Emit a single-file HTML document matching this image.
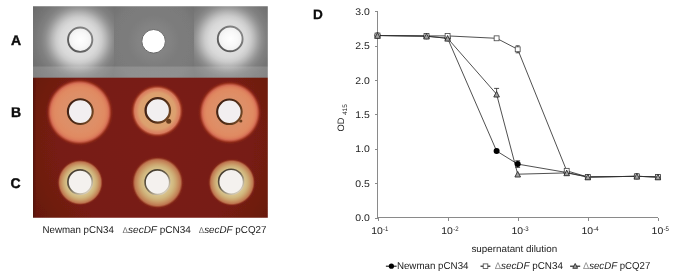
<!DOCTYPE html>
<html><head><meta charset="utf-8"><title>Figure</title>
<style>
html,body{margin:0;padding:0;background:#fff;}
body{width:685px;height:276px;overflow:hidden;font-family:"Liberation Sans",sans-serif;}
svg{display:block;}
svg text{font-family:"Liberation Sans",sans-serif;fill:#1a1a1a;}
.pl{font-weight:bold;font-size:14px;fill:#0c0c0c;stroke:#0c0c0c;stroke-width:0.4px;}
.lb{font-size:10px;}
.tk{font-size:9.7px;fill:#222;}
.sup{font-size:6.6px;}
.d{fill:#707070;font-size:8.2px;}
.d2{fill:#8c8c8c;font-size:9.6px;}
</style></head><body>
<svg width="685" height="276" viewBox="0 0 685 276" text-rendering="geometricPrecision">
<defs>
<filter id="bl" x="-5%" y="-5%" width="110%" height="110%"><feGaussianBlur stdDeviation="0.55"/></filter>
<radialGradient id="bgA1" gradientUnits="userSpaceOnUse" cx="79.0" cy="40.0" r="56"><stop offset="0.000" stop-color="#dedede"/><stop offset="0.250" stop-color="#dedede"/><stop offset="0.339" stop-color="#d8d8d8"/><stop offset="0.411" stop-color="#cbcbcb"/><stop offset="0.482" stop-color="#b5b5b5"/><stop offset="0.545" stop-color="#9f9f9f"/><stop offset="0.607" stop-color="#8d8d8d"/><stop offset="0.679" stop-color="#808080"/><stop offset="0.804" stop-color="#757575"/><stop offset="1.000" stop-color="#6b6b6b"/></radialGradient>
<radialGradient id="bgA2" gradientUnits="userSpaceOnUse" cx="153.6" cy="41.3" r="52">
<stop offset="0" stop-color="#868686"/><stop offset="0.3" stop-color="#838383"/><stop offset="0.5" stop-color="#7c7c7c"/><stop offset="0.8" stop-color="#7a7a7a"/><stop offset="1" stop-color="#727272"/></radialGradient>
<radialGradient id="bgA3" gradientUnits="userSpaceOnUse" cx="227.8" cy="39.0" r="56"><stop offset="0.000" stop-color="#dedede"/><stop offset="0.250" stop-color="#dedede"/><stop offset="0.339" stop-color="#d8d8d8"/><stop offset="0.411" stop-color="#cbcbcb"/><stop offset="0.482" stop-color="#b5b5b5"/><stop offset="0.545" stop-color="#9f9f9f"/><stop offset="0.607" stop-color="#8d8d8d"/><stop offset="0.679" stop-color="#808080"/><stop offset="0.804" stop-color="#757575"/><stop offset="1.000" stop-color="#6b6b6b"/></radialGradient>
<radialGradient id="haloA" cx="0.5" cy="0.5" r="0.5">
<stop offset="0" stop-color="#f4f4f4" stop-opacity="1"/>
<stop offset="0.45" stop-color="#f1f1f1" stop-opacity="1"/>
<stop offset="0.64" stop-color="#ececec" stop-opacity="1"/>
<stop offset="0.74" stop-color="#dcdcdc" stop-opacity="0.95"/>
<stop offset="0.84" stop-color="#c0c0c0" stop-opacity="0.7"/>
<stop offset="0.93" stop-color="#a4a4a4" stop-opacity="0.3"/>
<stop offset="1" stop-color="#909090" stop-opacity="0"/>
</radialGradient>
<linearGradient id="bandA" x1="0" y1="0" x2="0" y2="1"><stop offset="0" stop-color="#ffffff" stop-opacity="0"/><stop offset="0.08" stop-color="#ffffff" stop-opacity="0.15"/><stop offset="1" stop-color="#ffffff" stop-opacity="0.17"/></linearGradient>
<linearGradient id="ringA" x1="1" y1="0" x2="0" y2="1"><stop offset="0" stop-color="#909090"/><stop offset="0.5" stop-color="#6e6e6e"/><stop offset="1" stop-color="#505050"/></linearGradient>
<linearGradient id="ringC" x1="0.1" y1="0" x2="0.9" y2="1"><stop offset="0" stop-color="#3a3226"/><stop offset="0.45" stop-color="#6a604c"/><stop offset="0.75" stop-color="#b8ae98"/><stop offset="1" stop-color="#e6dfd0"/></linearGradient>
<linearGradient id="ringB" x1="0" y1="0" x2="1" y2="0.6"><stop offset="0" stop-color="#3e2012"/><stop offset="0.6" stop-color="#4c2a16"/><stop offset="1" stop-color="#6e4424"/></linearGradient>
<linearGradient id="edgeL" x1="0" y1="0" x2="1" y2="0"><stop offset="0" stop-color="#2a0a06" stop-opacity="0.35"/><stop offset="1" stop-color="#2a0a06" stop-opacity="0"/></linearGradient>
<radialGradient id="wellA" cx="0.5" cy="0.5" r="0.5"><stop offset="0" stop-color="#ffffff"/><stop offset="0.6" stop-color="#f8f8f8"/><stop offset="1" stop-color="#eeeeee"/></radialGradient>
<radialGradient id="zB1" cx="0.5" cy="0.5" r="0.5">
<stop offset="0" stop-color="#e7a080"/>
<stop offset="0.62" stop-color="#e8a283"/>
<stop offset="0.82" stop-color="#efb08c"/>
<stop offset="0.92" stop-color="#eaa07a"/>
<stop offset="0.97" stop-color="#c06848" stop-opacity="0.8"/>
<stop offset="1" stop-color="#801f12" stop-opacity="0"/>
</radialGradient>
<radialGradient id="zB2" cx="0.5" cy="0.5" r="0.5">
<stop offset="0" stop-color="#f3c092"/>
<stop offset="0.68" stop-color="#f2bc8c"/>
<stop offset="0.82" stop-color="#ea9c6c"/>
<stop offset="0.93" stop-color="#de8058"/>
<stop offset="0.97" stop-color="#b85838" stop-opacity="0.8"/>
<stop offset="1" stop-color="#801f12" stop-opacity="0"/>
</radialGradient>
<radialGradient id="zC" cx="0.5" cy="0.5" r="0.5">
<stop offset="0" stop-color="#f8ecc8"/>
<stop offset="0.6" stop-color="#f7e8c2"/>
<stop offset="0.72" stop-color="#f0d4a0"/>
<stop offset="0.84" stop-color="#dea26e"/>
<stop offset="0.93" stop-color="#b86040" stop-opacity="0.85"/>
<stop offset="1" stop-color="#801f12" stop-opacity="0"/>
</radialGradient>
<radialGradient id="redbg" gradientUnits="userSpaceOnUse" cx="155" cy="140" r="150">
<stop offset="0" stop-color="#7a1e13"/>
<stop offset="0.65" stop-color="#771d12"/>
<stop offset="1" stop-color="#64180f"/>
</radialGradient>
<radialGradient id="zb1" gradientUnits="userSpaceOnUse" cx="79.6" cy="112.2" r="34.199999999999996"><stop offset="0.000" stop-color="#dc9068"/><stop offset="0.395" stop-color="#dc9068"/><stop offset="0.583" stop-color="#df8e66"/><stop offset="0.729" stop-color="#e08a62"/><stop offset="0.807" stop-color="#dd805c"/><stop offset="0.854" stop-color="#d46c54"/><stop offset="0.895" stop-color="#b44a34" stop-opacity="0.95"/><stop offset="0.936" stop-color="#932a18" stop-opacity="0.65"/><stop offset="1.000" stop-color="#7c1e12" stop-opacity="0"/></radialGradient>
<radialGradient id="zb2" gradientUnits="userSpaceOnUse" cx="157.2" cy="111" r="27.200000000000003"><stop offset="0.000" stop-color="#dca270"/><stop offset="0.515" stop-color="#dca270"/><stop offset="0.669" stop-color="#dca06e"/><stop offset="0.735" stop-color="#dc9068"/><stop offset="0.831" stop-color="#d87c5e"/><stop offset="0.882" stop-color="#b04830" stop-opacity="0.92"/><stop offset="0.934" stop-color="#902818" stop-opacity="0.55"/><stop offset="1.000" stop-color="#7c1e12" stop-opacity="0"/></radialGradient>
<radialGradient id="zb3" gradientUnits="userSpaceOnUse" cx="229.8" cy="112.6" r="32.3"><stop offset="0.000" stop-color="#dc9068"/><stop offset="0.418" stop-color="#dc9068"/><stop offset="0.579" stop-color="#df8e66"/><stop offset="0.723" stop-color="#e08a62"/><stop offset="0.796" stop-color="#dd805c"/><stop offset="0.845" stop-color="#d46c54"/><stop offset="0.889" stop-color="#b44a34" stop-opacity="0.95"/><stop offset="0.932" stop-color="#932a18" stop-opacity="0.65"/><stop offset="1.000" stop-color="#7c1e12" stop-opacity="0"/></radialGradient>
<radialGradient id="zc1" gradientUnits="userSpaceOnUse" cx="80.2" cy="182.5" r="23.668"><stop offset="0.000" stop-color="#d8c28c"/><stop offset="0.549" stop-color="#d8c28c"/><stop offset="0.638" stop-color="#d1b880"/><stop offset="0.727" stop-color="#cca46e"/><stop offset="0.805" stop-color="#c68c5e"/><stop offset="0.869" stop-color="#bd7650"/><stop offset="0.904" stop-color="#a44c32" stop-opacity="0.95"/><stop offset="0.940" stop-color="#86291a" stop-opacity="0.6"/><stop offset="1.000" stop-color="#7c1e12" stop-opacity="0"/></radialGradient>
<radialGradient id="zc2" gradientUnits="userSpaceOnUse" cx="157.6" cy="182.6" r="26.97"><stop offset="0.000" stop-color="#d8c28c"/><stop offset="0.482" stop-color="#d8c28c"/><stop offset="0.584" stop-color="#d1b880"/><stop offset="0.686" stop-color="#cca46e"/><stop offset="0.776" stop-color="#c68c5e"/><stop offset="0.849" stop-color="#bd7650"/><stop offset="0.890" stop-color="#a44c32" stop-opacity="0.95"/><stop offset="0.931" stop-color="#86291a" stop-opacity="0.6"/><stop offset="1.000" stop-color="#7c1e12" stop-opacity="0"/></radialGradient>
<radialGradient id="zc3" gradientUnits="userSpaceOnUse" cx="231.8" cy="182.5" r="24.43"><stop offset="0.000" stop-color="#d8c28c"/><stop offset="0.532" stop-color="#d8c28c"/><stop offset="0.624" stop-color="#d1b880"/><stop offset="0.716" stop-color="#cca46e"/><stop offset="0.797" stop-color="#c68c5e"/><stop offset="0.864" stop-color="#bd7650"/><stop offset="0.901" stop-color="#a44c32" stop-opacity="0.95"/><stop offset="0.937" stop-color="#86291a" stop-opacity="0.6"/><stop offset="1.000" stop-color="#7c1e12" stop-opacity="0"/></radialGradient>
<clipPath id="cp"><rect x="33" y="6.3" width="234.8" height="211.4"/></clipPath>
</defs>

<g clip-path="url(#cp)"><g filter="url(#bl)">
<rect x="30" y="3" width="84" height="76" fill="url(#bgA1)"/>
<rect x="114" y="3" width="80" height="76" fill="url(#bgA2)"/>
<rect x="194" y="3" width="77" height="76" fill="url(#bgA3)"/>
<rect x="30" y="66" width="241" height="13" fill="url(#bandA)"/>
<rect x="30" y="77.7" width="241" height="144" fill="url(#redbg)"/>
<rect x="33" y="78" width="3.5" height="141" fill="url(#edgeL)"/>
<circle cx="80.2" cy="39.7" r="12.15" fill="url(#wellA)" stroke="url(#ringA)" stroke-width="1.9"/>
<circle cx="153.6" cy="41.3" r="11.8" fill="#ffffff" stroke="#666666" stroke-width="1.0"/>
<circle cx="230.2" cy="38.9" r="12.4" fill="url(#wellA)" stroke="url(#ringA)" stroke-width="1.9"/>
<circle cx="79.6" cy="112.2" r="34.199999999999996" fill="url(#zb1)"/>
<circle cx="157.2" cy="111" r="27.200000000000003" fill="url(#zb2)"/>
<circle cx="229.8" cy="112.6" r="32.3" fill="url(#zb3)"/>
<circle cx="168.7" cy="121.3" r="2.5" fill="#6a3c1e"/>
<circle cx="240.8" cy="121" r="1.6" fill="#6a3c1e"/>
<circle cx="80.3" cy="111.6" r="12.4" fill="#f2eff0" stroke="url(#ringB)" stroke-width="2.1"/>
<circle cx="157.8" cy="110.4" r="12.2" fill="#f2eff0" stroke="url(#ringB)" stroke-width="2.3"/>
<circle cx="229.4" cy="111.8" r="12.25" fill="#f2eff0" stroke="url(#ringB)" stroke-width="2.1"/>
<circle cx="80.2" cy="182.5" r="23.668" fill="url(#zc1)"/>
<circle cx="157.6" cy="182.6" r="26.97" fill="url(#zc2)"/>
<circle cx="231.8" cy="182.5" r="24.43" fill="url(#zc3)"/>
<circle cx="80.1" cy="182.0" r="12.2" fill="#f4f1ee" stroke="url(#ringC)" stroke-width="1.7"/>
<circle cx="157.4" cy="182.2" r="12.3" fill="#f4f1ee" stroke="url(#ringC)" stroke-width="1.6"/>
<circle cx="231.1" cy="181.7" r="12.5" fill="#f4f1ee" stroke="url(#ringC)" stroke-width="1.6"/>
</g></g>
<text class="pl" x="11" y="45">A</text>
<text class="pl" x="11" y="117.2">B</text>
<text class="pl" x="10.6" y="188">C</text>
<text class="pl" x="312.9" y="19.2" style="stroke-width:0.25px;font-size:13.6px">D</text>
<text class="lb" x="42.5" y="232.6" textLength="71.3" lengthAdjust="spacingAndGlyphs">Newman pCN34</text>
<text class="lb" x="122.6" y="232.6" textLength="68.3" lengthAdjust="spacingAndGlyphs"><tspan class="d">Δ</tspan><tspan font-style="italic">secDF</tspan> pCN34</text>
<text class="lb" x="198.8" y="232.6" textLength="67.7" lengthAdjust="spacingAndGlyphs"><tspan class="d">Δ</tspan><tspan font-style="italic">secDF</tspan> pCQ27</text>
<g stroke="#8a8a8a" stroke-width="1" fill="none" shape-rendering="crispEdges">
<line x1="377.5" y1="11.5" x2="377.5" y2="217.5"/>
<line x1="377.5" y1="217.5" x2="658" y2="217.5"/>
<line x1="374.5" y1="218.5" x2="377.5" y2="218.5"/>
<line x1="374.5" y1="183.5" x2="377.5" y2="183.5"/>
<line x1="374.5" y1="149.5" x2="377.5" y2="149.5"/>
<line x1="374.5" y1="114.5" x2="377.5" y2="114.5"/>
<line x1="374.5" y1="80.5" x2="377.5" y2="80.5"/>
<line x1="374.5" y1="46.5" x2="377.5" y2="46.5"/>
<line x1="374.5" y1="11.5" x2="377.5" y2="11.5"/>
<line x1="378.5" y1="217.5" x2="378.5" y2="220.5"/>
<line x1="448.5" y1="217.5" x2="448.5" y2="220.5"/>
<line x1="518.5" y1="217.5" x2="518.5" y2="220.5"/>
<line x1="588.5" y1="217.5" x2="588.5" y2="220.5"/>
<line x1="658.5" y1="217.5" x2="658.5" y2="220.5"/>
</g>
<text class="tk" x="355.2" y="220.8" textLength="14.5" lengthAdjust="spacingAndGlyphs">0.0</text>
<text class="tk" x="355.2" y="186.5" textLength="14.5" lengthAdjust="spacingAndGlyphs">0.5</text>
<text class="tk" x="355.2" y="152.1" textLength="14.5" lengthAdjust="spacingAndGlyphs">1.0</text>
<text class="tk" x="355.2" y="117.8" textLength="14.5" lengthAdjust="spacingAndGlyphs">1.5</text>
<text class="tk" x="355.2" y="83.5" textLength="14.5" lengthAdjust="spacingAndGlyphs">2.0</text>
<text class="tk" x="355.2" y="49.1" textLength="14.5" lengthAdjust="spacingAndGlyphs">2.5</text>
<text class="tk" x="355.2" y="14.8" textLength="14.5" lengthAdjust="spacingAndGlyphs">3.0</text>
<text class="tk" x="371.2" y="233.5" textLength="11.6" lengthAdjust="spacingAndGlyphs">10</text><text class="tk sup" x="383.05" y="230.8" textLength="5.4" lengthAdjust="spacingAndGlyphs">-1</text>
<text class="tk" x="441.3" y="233.5" textLength="11.6" lengthAdjust="spacingAndGlyphs">10</text><text class="tk sup" x="453.15" y="230.8" textLength="5.4" lengthAdjust="spacingAndGlyphs">-2</text>
<text class="tk" x="511.4" y="233.5" textLength="11.6" lengthAdjust="spacingAndGlyphs">10</text><text class="tk sup" x="523.25" y="230.8" textLength="5.4" lengthAdjust="spacingAndGlyphs">-3</text>
<text class="tk" x="581.5" y="233.5" textLength="11.6" lengthAdjust="spacingAndGlyphs">10</text><text class="tk sup" x="593.35" y="230.8" textLength="5.4" lengthAdjust="spacingAndGlyphs">-4</text>
<text class="tk" x="651.6" y="233.5" textLength="11.6" lengthAdjust="spacingAndGlyphs">10</text><text class="tk sup" x="663.45" y="230.8" textLength="5.4" lengthAdjust="spacingAndGlyphs">-5</text>
<text class="tk" x="471.4" y="251.8" textLength="85.8" lengthAdjust="spacingAndGlyphs">supernatant dilution</text>
<text class="tk" style="font-size:9.3px" transform="translate(344.2,131.6) rotate(-90)">OD <tspan class="sup" dy="2.3" style="font-size:6.5px">415</tspan></text>
<g fill="none" stroke="#303030" stroke-width="0.85">
<polyline points="377.5,35.5 426.5,36.2 447.6,38.3 496.6,151.0 517.7,164.1 566.7,172.5 587.8,177.0 636.8,176.3 657.9,177.0"/>
<polyline points="377.5,35.5 426.5,35.9 447.6,35.9 496.6,38.3 517.7,49.3 566.7,170.8 587.8,177.0 636.8,176.3 657.9,177.0"/>
<polyline points="377.5,35.5 426.5,36.2 447.6,38.3 496.6,94.2 517.7,174.2 566.7,172.9 587.8,177.0 636.8,176.3 657.9,177.0"/>
<path d="M496.6,88.4 V97.2 M494.1,88.4 H499.1"/>
<path d="M517.7,160.79999999999998 V167.4 M515.3000000000001,160.79999999999998 H520.1 M515.3000000000001,167.4 H520.1"/>
<path d="M517.7,45.8 V52.8 M515.7,45.8 H519.7 M515.7,52.8 H519.7"/>
</g>
<circle cx="377.5" cy="35.5" r="3.0" fill="#000"/>
<circle cx="426.5" cy="36.2" r="3.0" fill="#000"/>
<circle cx="447.6" cy="38.3" r="3.0" fill="#000"/>
<circle cx="496.6" cy="151.0" r="3.0" fill="#000"/>
<circle cx="517.7" cy="164.1" r="3.0" fill="#000"/>
<circle cx="566.7" cy="172.5" r="3.0" fill="#000"/>
<circle cx="587.8" cy="177.0" r="3.0" fill="#000"/>
<circle cx="636.8" cy="176.3" r="3.0" fill="#000"/>
<circle cx="657.9" cy="177.0" r="3.0" fill="#000"/>
<rect x="375.05" y="33.05" width="4.9" height="4.9" fill="#fff" stroke="#444" stroke-width="0.8"/>
<rect x="424.05" y="33.45" width="4.9" height="4.9" fill="#fff" stroke="#444" stroke-width="0.8"/>
<rect x="445.15" y="33.45" width="4.9" height="4.9" fill="#fff" stroke="#444" stroke-width="0.8"/>
<rect x="494.15" y="35.85" width="4.9" height="4.9" fill="#fff" stroke="#444" stroke-width="0.8"/>
<rect x="515.25" y="46.85" width="4.9" height="4.9" fill="#fff" stroke="#444" stroke-width="0.8"/>
<rect x="564.25" y="168.35" width="4.9" height="4.9" fill="#fff" stroke="#444" stroke-width="0.8"/>
<rect x="585.35" y="174.55" width="4.9" height="4.9" fill="#fff" stroke="#444" stroke-width="0.8"/>
<rect x="634.35" y="173.85" width="4.9" height="4.9" fill="#fff" stroke="#444" stroke-width="0.8"/>
<rect x="655.45" y="174.55" width="4.9" height="4.9" fill="#fff" stroke="#444" stroke-width="0.8"/>
<path d="M377.5,32.7 L380.3,38.3 L374.7,38.3 Z" fill="#a2a2a2" stroke="#2a2a2a" stroke-width="0.9"/>
<path d="M426.5,33.4 L429.3,39.0 L423.7,39.0 Z" fill="#a2a2a2" stroke="#2a2a2a" stroke-width="0.9"/>
<path d="M447.6,35.5 L450.4,41.1 L444.8,41.1 Z" fill="#a2a2a2" stroke="#2a2a2a" stroke-width="0.9"/>
<path d="M496.6,91.4 L499.4,97.0 L493.8,97.0 Z" fill="#a2a2a2" stroke="#2a2a2a" stroke-width="0.9"/>
<path d="M517.7,171.4 L520.5,177.0 L514.9,177.0 Z" fill="#a2a2a2" stroke="#2a2a2a" stroke-width="0.9"/>
<path d="M566.7,170.1 L569.5,175.7 L563.9,175.7 Z" fill="#a2a2a2" stroke="#2a2a2a" stroke-width="0.9"/>
<path d="M587.8,174.2 L590.6,179.8 L585.0,179.8 Z" fill="#a2a2a2" stroke="#2a2a2a" stroke-width="0.9"/>
<path d="M636.8,173.5 L639.6,179.1 L634.0,179.1 Z" fill="#a2a2a2" stroke="#2a2a2a" stroke-width="0.9"/>
<path d="M657.9,174.2 L660.7,179.8 L655.1,179.8 Z" fill="#a2a2a2" stroke="#2a2a2a" stroke-width="0.9"/>
<g stroke="#151515" stroke-width="1.1"><line x1="385.9" y1="266.2" x2="396.6" y2="266.2"/><line x1="480.5" y1="266.2" x2="490.4" y2="266.2"/><line x1="570.1" y1="266.2" x2="580.2" y2="266.2"/></g>
<circle cx="391.4" cy="266.2" r="2.6" fill="#000"/>
<rect x="483.20" y="263.90" width="4.6" height="4.6" fill="#fff" stroke="#444" stroke-width="0.8"/>
<path d="M575.2,263.5 L577.6,268.3 L572.8,268.3 Z" fill="#a2a2a2" stroke="#2a2a2a" stroke-width="0.9"/>
<text class="lb" x="396.9" y="268.8" textLength="71.6" lengthAdjust="spacingAndGlyphs">Newman pCN34</text>
<text class="lb" x="494.7" y="268.8" textLength="68.2" lengthAdjust="spacingAndGlyphs"><tspan class="d2">Δ</tspan><tspan font-style="italic">secDF</tspan> pCN34</text>
<text class="lb" x="583" y="268.8" textLength="67.3" lengthAdjust="spacingAndGlyphs"><tspan class="d2">Δ</tspan><tspan font-style="italic">secDF</tspan> pCQ27</text>
</svg></body></html>
